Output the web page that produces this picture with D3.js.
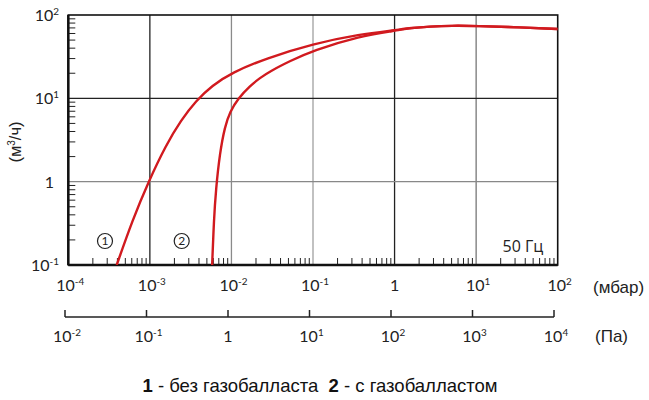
<!DOCTYPE html>
<html><head><meta charset="utf-8">
<script src="https://cdn.jsdelivr.net/npm/d3@7"></script>
<style>body{margin:0;background:#fff}svg{display:block}</style>
</head><body><svg id="c" width="649" height="400"></svg>
<script>
// data: pressure (mbar) vs pumping speed (m3/h)
const curve1P = [3.92e-4, 6.13e-4, 9.62e-4, 1.577e-3, 2.405e-3, 3.677e-3, 5.775e-3, 1.016e-2, 2.653e-2, 0.1, 0.377, 1, 1.6, 2.7, 5, 10, 35, 100];
const curve1S = [0.1, 0.347, 1.0, 2.75, 5.46, 9.35, 14.2, 20.4, 30.2, 45.2, 58.7, 65.7, 70, 72.8, 74.5, 74, 71, 68];
const curve2P = [5.8e-3, 6.1e-3, 6.45e-3, 7.2e-3, 8.3e-3, 9.6e-3, 1.21e-2, 1.69e-2, 2.24e-2, 2.97e-2, 5.2e-2, 0.1, 0.376, 1, 1.6, 2.7, 5, 10, 35, 100];
const curve2S = [0.1, 0.35, 0.8, 2.19, 4.57, 6.9, 10, 14.1, 17.6, 21.1, 28, 37.5, 56, 64.5, 70, 72.8, 74.5, 74, 71, 68];
const mbarTicks = [1e-4, 1e-3, 1e-2, 1e-1, 1, 10, 100];
const mbarLabels = [["10","-4"],["10","-3"],["10","-2"],["10","-1"],["1",""],["10","1"],["10","2"]];
const paTicks = [1e-2, 1e-1, 1, 10, 100, 1e3, 1e4];
const paLabels = [["10","-2"],["10","-1"],["1",""],["10","1"],["10","2"],["10","3"],["10","4"]];
const yTicks = [0.1, 1, 10, 100];
const yLabels = [["10","-1"],["1",""],["10","1"],["10","2"]];
const vGrid = [1e-3, 1e-2, 1e-1, 1, 10];
const vGridColor = ["#222", "#8a8a8a", "#a0a0a0", "#222", "#777"];
const hGrid = [1, 10];
const hGridColor = ["#888", "#222"];

const svg = d3.select("#c");
const L = 68.3, R = 557.7, T = 15, B = 265;
const x = d3.scaleLog().domain([1e-4, 100]).range([L, R]);
const y = d3.scaleLog().domain([0.1, 100]).range([B, T]);
const xPa = d3.scaleLog().domain([1e-2, 1e4]).range([65, 554]);
const tickFont = "Lato, 'Open Sans', sans-serif";
const arial = "Arial, 'Liberation Sans', sans-serif";

// grid
vGrid.forEach((v, i) => svg.append("line").attr("x1", x(v)).attr("x2", x(v)).attr("y1", T).attr("y2", B)
  .attr("stroke", vGridColor[i]).attr("stroke-width", 1.3));
hGrid.forEach((v, i) => svg.append("line").attr("x1", L).attr("x2", R).attr("y1", y(v)).attr("y2", y(v))
  .attr("stroke", hGridColor[i]).attr("stroke-width", 1.3));

// minor ticks
const minors = [];
for (let e = -4; e < 2; e++) for (let m = 2; m <= 9; m++) minors.push(m * Math.pow(10, e));
svg.append("g").selectAll("line").data(minors).join("line")
  .attr("x1", d => x(d)).attr("x2", d => x(d)).attr("y1", B).attr("y2", B - 7)
  .attr("stroke", "#222").attr("stroke-width", 1);
const yMinors = [];
for (let e = -1; e < 2; e++) for (let m = 2; m <= 9; m++) yMinors.push(m * Math.pow(10, e));
svg.append("g").selectAll("line").data(yMinors).join("line")
  .attr("x1", L).attr("x2", L + 7).attr("y1", d => y(d)).attr("y2", d => y(d))
  .attr("stroke", "#222").attr("stroke-width", 1);

// frame
svg.append("rect").attr("x", L).attr("y", T).attr("width", R - L).attr("height", B - T)
  .attr("fill", "none").attr("stroke", "#111").attr("stroke-width", 1.6);
svg.append("line").attr("x1", L).attr("x2", L).attr("y1", T).attr("y2", B).attr("stroke", "#111").attr("stroke-width", 2.5);
svg.append("line").attr("x1", L).attr("x2", R).attr("y1", B).attr("y2", B).attr("stroke", "#111").attr("stroke-width", 2.5);

// curves
svg.append("clipPath").attr("id", "clip").append("rect").attr("x", L).attr("y", T).attr("width", R - L).attr("height", B - T);
const line = d3.line().x(d => x(d[0])).y(d => y(d[1])).curve(d3.curveBasis);
const c1 = curve1P.map((p, i) => [p, curve1S[i]]);
const c2 = curve2P.map((p, i) => [p, curve2S[i]]);
[c1, c2].forEach(c => svg.append("path").attr("d", line(c)).attr("clip-path", "url(#clip)")
  .attr("fill", "none").attr("stroke", "#d11a1f").attr("stroke-width", 2.4).attr("stroke-linejoin", "round"));

function supLabel(g, base, sup, xx, yy, anchor, size) {
  const t = g.append("text").attr("x", xx).attr("y", yy).attr("text-anchor", anchor)
    .attr("font-family", tickFont).attr("font-size", size).attr("fill", "#222");
  t.append("tspan").text(base);
  if (sup) t.append("tspan").text(sup.replace("-", "\u2011")).attr("font-size", size * 0.62).attr("dy", -size * 0.4);
  return t;
}

// y labels
yTicks.forEach((v, i) => {
  const hasSup = yLabels[i][1] !== "";
  supLabel(svg, yLabels[i][0], yLabels[i][1], hasSup ? 59 : 54, y(v) + 6, "end", 16);
});
// x mbar labels
mbarTicks.forEach((v, i) => {
  const hasSup = mbarLabels[i][1] !== "";
  supLabel(svg, mbarLabels[i][0], mbarLabels[i][1], x(v) + (hasSup ? 2 : 0), 291, "middle", 16);
});
// Pa axis
svg.append("line").attr("x1", xPa(1e-2)).attr("x2", xPa(1e4)).attr("y1", 317).attr("y2", 317)
  .attr("stroke", "#222").attr("stroke-width", 1.5);
svg.append("g").selectAll("line").data(paTicks).join("line")
  .attr("x1", d => xPa(d)).attr("x2", d => xPa(d)).attr("y1", 317).attr("y2", 310)
  .attr("stroke", "#222").attr("stroke-width", 1.5);
paTicks.forEach((v, i) => {
  const hasSup = paLabels[i][1] !== "";
  supLabel(svg, paLabels[i][0], paLabels[i][1], xPa(v) + (hasSup ? 2 : 0), 342, "middle", 16);
});

// units
svg.append("text").attr("x", 593).attr("y", 293).attr("font-family", arial)
  .attr("font-size", 17).attr("fill", "#222").text("(мбар)");
svg.append("text").attr("x", 595).attr("y", 342).attr("font-family", arial)
  .attr("font-size", 17).attr("fill", "#222").text("(Па)");
const yl = svg.append("text").attr("transform", "translate(21,142) rotate(-90)").attr("text-anchor", "middle")
  .attr("font-family", arial).attr("font-size", 16.5).attr("fill", "#222");
yl.append("tspan").text("(м");
yl.append("tspan").text("3").attr("font-size", 10).attr("dy", -6);
yl.append("tspan").text("/ч)").attr("dy", 6);

// 50 Hz
svg.append("text").attr("x", 523).attr("y", 251.5).attr("text-anchor", "middle")
  .attr("font-family", "'Open Sans', sans-serif").attr("font-size", 16).attr("fill", "#222").text("50 Гц");

// circled numbers
[[105, "1"], [181.7, "2"]].forEach(([cx, t]) => {
  svg.append("circle").attr("cx", cx).attr("cy", 241).attr("r", 7.5).attr("fill", "#fff").attr("stroke", "#222").attr("stroke-width", 1.2);
  svg.append("text").attr("x", cx).attr("y", 245.3).attr("text-anchor", "middle").attr("font-family", tickFont)
    .attr("font-size", 12).attr("fill", "#222").text(t);
});

// legend
const lg = svg.append("text").attr("x", 320).attr("y", 392).attr("text-anchor", "middle")
  .attr("font-family", arial).attr("font-size", 18.5).attr("fill", "#111");
lg.append("tspan").attr("font-weight", "bold").text("1");
lg.append("tspan").text(" - без газобалласта  ").attr("xml:space", "preserve");
lg.append("tspan").attr("font-weight", "bold").text("2");
lg.append("tspan").text(" - с газобалластом");
</script></body></html>
